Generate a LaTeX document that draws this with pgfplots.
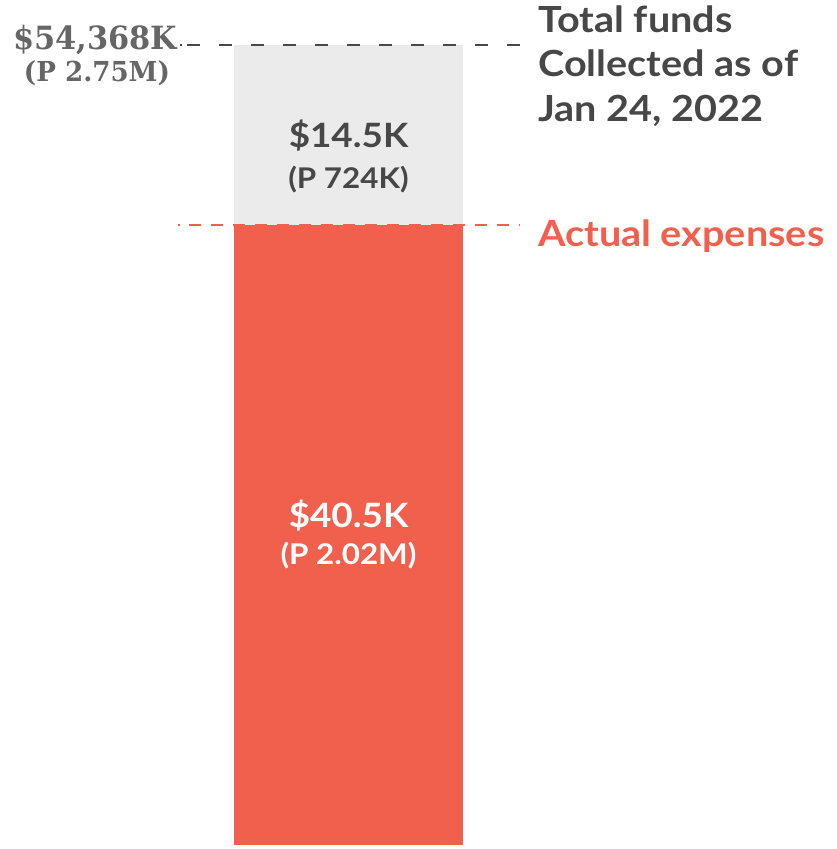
\documentclass[border=0pt]{standalone}
\usepackage{pgfplots}
\pgfplotsset{compat=1.18}
\usepackage{fontspec}
\setmainfont{Lato}[FakeStretch=1.1]
\newfontfamily\slab{DejaVu Serif Bold}[FakeStretch=0.95]
\definecolor{barred}{HTML}{F1604D}
\definecolor{bargray}{HTML}{EBEBEB}
\definecolor{dtext}{HTML}{474747}
\definecolor{stext}{HTML}{666666}
\begin{document}
\begin{tikzpicture}
\begin{axis}[
  name=ax,
  scale only axis, width=837pt, height=849pt,
  xmin=-348.5, xmax=488.5, ymin=-0.261, ymax=55.196,
  hide axis, clip=false,
]
% bars: gray (total, drawn height) and red (actual expenses)
\addplot[ybar, bar width=229, bar shift=0, fill=bargray, draw=none] coordinates {(0,52.26)};
\addplot[ybar, bar width=229, bar shift=0, fill=barred, draw=none] coordinates {(0,40.5)};
% reference lines
\addplot[dtext, line width=2.6pt] coordinates {(-168.5,52.26) (-166.5,52.26)};
\addplot[dtext, line width=2.6pt, dash pattern=on 13pt off 19pt] coordinates {(-161.5,52.26) (171.5,52.26)};
\addplot[barred, line width=2.6pt] coordinates {(-170.5,40.5) (-168.5,40.5)};
\addplot[barred, line width=2.6pt, dash pattern=on 12pt off 10pt] coordinates {(-159.5,40.5) (171.5,40.5)};
% labels
\node[anchor=base east, inner sep=0, text=stext, font={\slab\fontsize{32}{36}\selectfont}] at (axis cs:-171,51.93) {\$54,368K};
\node[anchor=base, inner sep=0, text=stext, font={\slab\fontsize{27.5}{30}\selectfont}] at (axis cs:-251.5,49.84) {(P 2.75M)};
\node[anchor=base west, inner sep=0, text=dtext, font={\bfseries\fontsize{36}{44}\selectfont}] at (axis cs:189.5,53.04) {Total funds};
\node[anchor=base west, inner sep=0, text=dtext, font={\bfseries\fontsize{36}{44}\selectfont}] at (axis cs:189.5,50.17) {Collected as of};
\node[anchor=base west, inner sep=0, text=dtext, font={\bfseries\fontsize{36}{44}\selectfont}] at (axis cs:189.5,47.29) {Jan 24, 2022};
\node[anchor=base west, inner sep=0, text=barred, font={\bfseries\fontsize{36}{44}\selectfont}] at (axis cs:189.5,39.08) {Actual expenses};
\node[anchor=base, inner sep=0, text=dtext, font={\bfseries\fontsize{33.5}{38}\selectfont}] at (axis cs:0,45.59) {\$14.5K};
\node[anchor=base, inner sep=0, text=dtext, font={\bfseries\fontsize{28.5}{32}\selectfont}] at (axis cs:0,42.9) {(P 724K)};
\node[anchor=base, inner sep=0, text=white, font={\bfseries\fontsize{33.5}{38}\selectfont}] at (axis cs:0,20.71) {\$40.5K};
\node[anchor=base, inner sep=0, text=white, font={\bfseries\fontsize{28.5}{32}\selectfont}] at (axis cs:0,18.29) {(P 2.02M)};
\end{axis}
\pgfresetboundingbox
\useasboundingbox (ax.south west) rectangle (ax.north east);
\end{tikzpicture}
\end{document}
